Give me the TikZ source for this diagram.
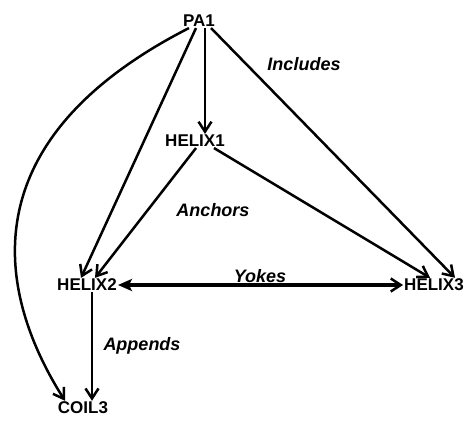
\documentclass[tikz,border=0pt]{standalone}
\usepackage{fontspec}
\setmainfont{Liberation Sans}
\usetikzlibrary{arrows.meta}
\begin{document}
\begin{tikzpicture}[x=1pt,y=-1pt,
  item/.style={font=\bfseries\fontsize{17}{19}\selectfont, inner sep=1pt},
  rel/.style={font=\bfseries\itshape\fontsize{18}{20}\selectfont, inner sep=1pt},
  barb/.tip={Straight Barb[length=10pt,width=13pt,line width=2.5pt]},
  link/.style={line width=2.5pt, -barb},
  yoke/.style={line width=4.2pt, {Stealth[length=14pt,width=12pt,inset=3pt]}-barb}]
\useasboundingbox (0,0) rectangle (468,423);
% entities
\node[item] (pa1) at (199,21) {PA1};
\node[item] (h1) at (195,141) {HELIX1};
\node[item] (h2) at (87,285) {HELIX2};
\node[item] (h3) at (434,285) {HELIX3};
\node[item] (c3) at (83,408) {COIL3};
% relation names
\node[rel] (inc) at (304,64) {Includes};
\node[rel] (anc) at (213,210) {Anchors};
\node[rel] (yok) at (260,276) {Yokes};
\node[rel] (app) at (142,346) {Appends};
% connectors
\draw[link] (pa1.south) ++(6,0) coordinate (p1a) (p1a) -- (h1.north -| p1a);
\draw[link] ([xshift=12pt]pa1.south) -- ([xshift=21pt]h3.north);
\draw[link] ([xshift=-3pt]pa1.south) -- ([xshift=-6pt]h2.north);
\draw[link] ([xshift=-10pt]pa1.south) .. controls (-30,140) and (-5,290) .. ([xshift=-18pt]c3.north);
\draw[link] ([xshift=1pt]h1.south) -- ([xshift=8pt]h2.north);
\draw[link] ([xshift=19pt]h1.south) -- ([xshift=-4pt]h3.north);
\draw[yoke] (h2.east) -- (h3.west);
\draw[link] ([xshift=5pt]h2.south) -- ([xshift=9pt]c3.north);
\end{tikzpicture}
\end{document}
